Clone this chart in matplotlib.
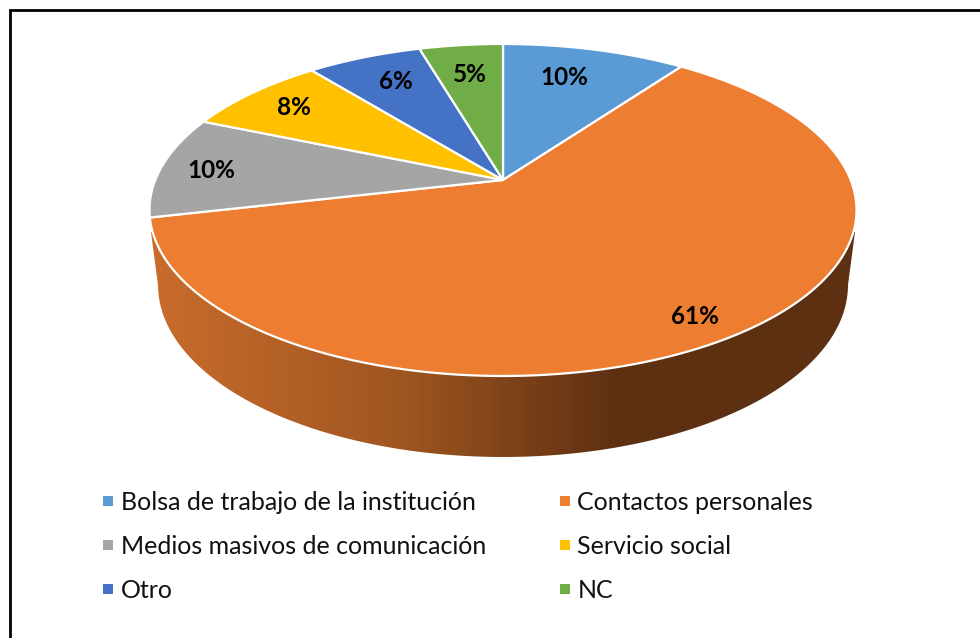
import matplotlib
matplotlib.use('Agg')
import matplotlib.pyplot as plt
import numpy as np
from matplotlib.colors import LinearSegmentedColormap
from matplotlib.lines import Line2D
from matplotlib.path import Path
from matplotlib.patches import PathPatch

categories = ['Bolsa de trabajo de la institución', 'Contactos personales',
              'Medios masivos de comunicación', 'Servicio social', 'Otro', 'NC']
values = [10.0, 61.4, 9.95, 7.85, 6.25, 4.55]
value_labels = ['10%', '61%', '10%', '8%', '6%', '5%']
colors = ['#5B9BD5', '#ED7D31', '#A5A5A5', '#FFC000', '#4472C4', '#70AD47']

# where each label sits inside its slice
label_r = [0.75, 0.877, 0.85, 0.82, 0.77, 0.75]
label_shift = [-2.5, 0.5, -1, 0, 1, 0]

plt.rcParams['font.family'] = ['Lato', 'DejaVu Sans']


# Perspective view of the flat pie, in picture pixels
def project(theta, r=1.0):
    u = r * np.sin(theta)
    v = r * np.cos(theta)
    w = 1 + 0.1807 * v
    return 503 + 347.7 * u / w, (180 - 128.05 * v) / w


fig = plt.figure(figsize=(9.8, 6.38), dpi=100)
ax = fig.add_axes([0, 0, 1, 1])
ax.set_xlim(0, 980)
ax.set_ylim(638, 0)
ax.axis('off')

# Frame, only top and left show
ax.plot([10, 10, 980], [638, 10, 10], color='black', lw=2.0, solid_joinstyle='miter')

# Side wall with the dark gradient
t = np.linspace(0, np.pi, 200)
wall_x = np.concatenate([[151], 503 - 345 * np.cos(t), [855]])
wall_y = np.concatenate([[232], 285 + 172 * np.sin(t), [232]])
wall_cmap = LinearSegmentedColormap.from_list(
    'wall', [(0, '#C96C2C'), (0.35, '#A05620'), (0.66, '#5E3012'), (1, '#5E3012')])
img = ax.imshow(np.linspace(0, 1, 512).reshape(1, -1), cmap=wall_cmap,
                extent=[150, 856, 460, 225], aspect='auto', zorder=1)
img.set_clip_path(PathPatch(Path(np.column_stack([wall_x, wall_y])),
                            transform=ax.transData))
ax.set_xlim(0, 980)
ax.set_ylim(638, 0)

# Top face
edges = np.concatenate([[0], np.cumsum(values)]) / np.sum(values) * 2 * np.pi
for i in range(len(values)):
    theta = np.linspace(edges[i], edges[i + 1], 150)
    x, y = project(theta)
    cx, cy = project(0.0, 0.0)
    ax.fill(np.concatenate([[cx], x]), np.concatenate([[cy], y]), facecolor=colors[i],
            edgecolor='white', linewidth=1.6, joinstyle='round', zorder=2)

# Percent labels
for i in range(len(values)):
    mid = (edges[i] + edges[i + 1]) / 2 + np.radians(label_shift[i])
    x, y = project(mid, label_r[i])
    ax.text(x, y, value_labels[i], ha='center', va='center', fontsize=17.5,
            fontweight='bold', color='black', zorder=3)

# Legend, filled column by column
order = [0, 2, 4, 1, 3, 5]
handles = [Line2D([], [], linestyle='none', marker='s', markersize=6.8,
                  markeredgewidth=0, color=colors[i]) for i in order]
ax.legend(handles, [categories[i] for i in order], ncol=2, frameon=False,
          loc='upper left', bbox_to_anchor=(102, 491), bbox_transform=ax.transData,
          borderpad=0, borderaxespad=0, fontsize=18, labelspacing=0.83,
          handlelength=0.5, handletextpad=0.26, columnspacing=2.88, labelcolor='#111111')

fig.savefig('out.png', dpi=100)
